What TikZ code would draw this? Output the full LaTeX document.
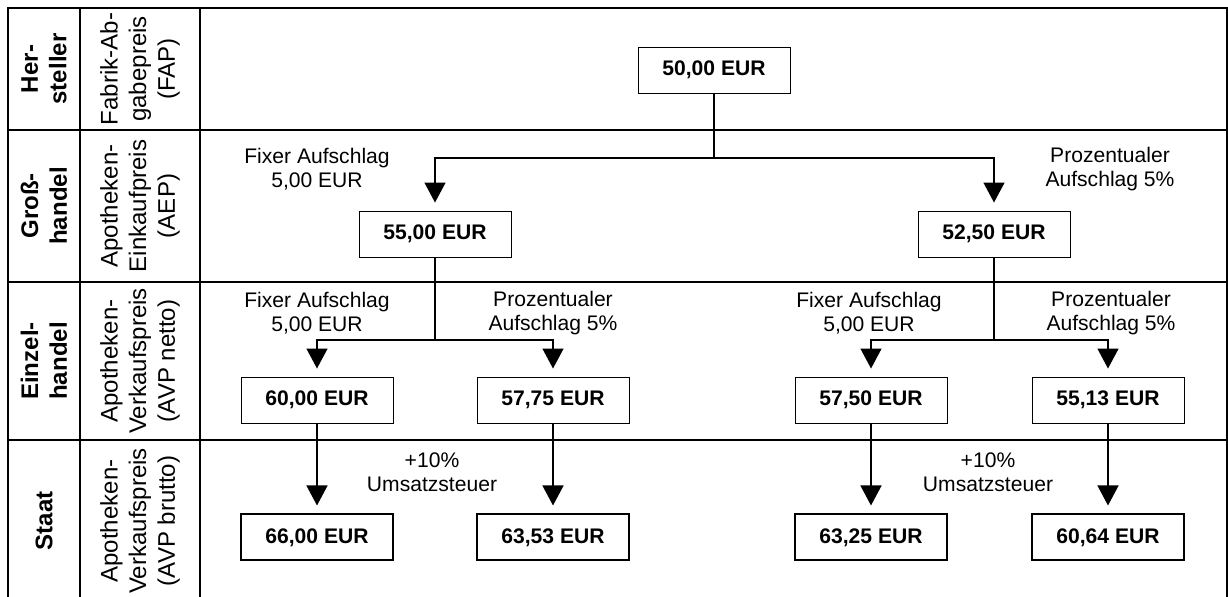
\documentclass[tikz,border=0pt]{standalone}
\usepackage{fontspec}
\setmainfont{Liberation Sans}
\usetikzlibrary{arrows.meta, positioning}

\begin{document}
\begin{tikzpicture}[
        x=0.03cm, y=-0.03cm,
        node distance=2.7cm,
        every node/.style={font=\fontsize{18}{20.5}\selectfont},
        grid/.style={line width=1.7pt},
        box/.style={rectangle, draw, line width=0.8pt, minimum width=4.56cm, minimum height=1.38cm, inner sep=0pt, align=center, font=\fontsize{18}{20.5}\selectfont\bfseries},
        endbox/.style={box, line width=1.7pt},
        note/.style={align=center},
        vhead/.style={rotate=90, align=center, font=\fontsize{20.5}{24.5}\selectfont\bfseries},
        vtext/.style={rotate=90, align=center, font=\fontsize{20.5}{24.5}\selectfont},
        conn/.style={line width=1.2pt},
        flow/.style={conn, -{Triangle[width=0.63cm, length=0.6cm]}, shorten >=0.24cm}
    ]
        \useasboundingbox (0,0) rectangle (1228,597);

        \draw[grid] (8,597) -- (8,8) -- (1227,8) -- (1227,597);
        \foreach \x in {80,200} \draw[grid] (\x,8) -- (\x,597);
        \foreach \y in {130,282,440} \draw[grid] (8,\y) -- (1227,\y);

        \node[vhead] (hersteller) at (44,69) {Her-\\steller};
        \node[vtext] (fapname) at (140,69) {Fabrik-Ab-\\gabepreis\\(FAP)};
        \node[vhead] (grosshandel) at (44,206) {Groß-\\handel};
        \node[vtext] (aepname) at (140,206) {Apotheken-\\Einkaufpreis\\(AEP)};
        \node[vhead] (einzelhandel) at (44,361) {Einzel-\\handel};
        \node[vtext] (nettoname) at (140,361) {Apotheken-\\Verkaufspreis\\(AVP netto)};
        \node[vhead] (staat) at (44,521) {Staat};
        \node[vtext] (bruttoname) at (140,521) {Apotheken-\\Verkaufspreis\\(AVP brutto)};

        \node[box] (fap) at (714,70) {50,00 EUR};
        \coordinate (split) at (714,158);
        \node[box] (aepfix) at (435,234) {55,00 EUR};
        \node[box] (aepproz) at (994,234) {52,50 EUR};
        \coordinate (splitl) at (435,340);
        \coordinate (splitr) at (994,340);
        \node[box] (nettoff) at (317,400) {60,00 EUR};
        \node[box] (nettofp) at (553,400) {57,75 EUR};
        \node[box] (nettopf) at (871,400) {57,50 EUR};
        \node[box] (nettopp) at (1108,400) {55,13 EUR};
        \node[endbox, below=of nettoff] (bruttoff) {66,00 EUR};
        \node[endbox, below=of nettofp] (bruttofp) {63,53 EUR};
        \node[endbox, below=of nettopf] (bruttopf) {63,25 EUR};
        \node[endbox, below=of nettopp] (bruttopp) {60,64 EUR};

        \node[note] (fixgross) at (317,169) {Fixer Aufschlag\\5,00 EUR};
        \node[note] (prozgross) at (1110,169) {Prozentualer\\Aufschlag 5\%};
        \node[note] (fixeinzl) at (317,313) {Fixer Aufschlag\\5,00 EUR};
        \node[note] (prozeinzl) at (553,313) {Prozentualer\\Aufschlag 5\%};
        \node[note] (fixeinzr) at (869,313) {Fixer Aufschlag\\5,00 EUR};
        \node[note] (prozeinzr) at (1111,313) {Prozentualer\\Aufschlag 5\%};
        \node[note] (steuerl) at (432,472) {+10\%\\Umsatzsteuer};
        \node[note] (steuerr) at (988,472) {+10\%\\Umsatzsteuer};

        \draw[conn] (fap) -- (split);
        \draw[flow] (split) -| (aepfix);
        \draw[flow] (split) -| (aepproz);
        \draw[conn] (aepfix) -- (splitl);
        \draw[flow] (splitl) -| (nettoff);
        \draw[flow] (splitl) -| (nettofp);
        \draw[conn] (aepproz) -- (splitr);
        \draw[flow] (splitr) -| (nettopf);
        \draw[flow] (splitr) -| (nettopp);
        \draw[flow] (nettoff) -- (bruttoff);
        \draw[flow] (nettofp) -- (bruttofp);
        \draw[flow] (nettopf) -- (bruttopf);
        \draw[flow] (nettopp) -- (bruttopp);
    \end{tikzpicture}
\end{document}
